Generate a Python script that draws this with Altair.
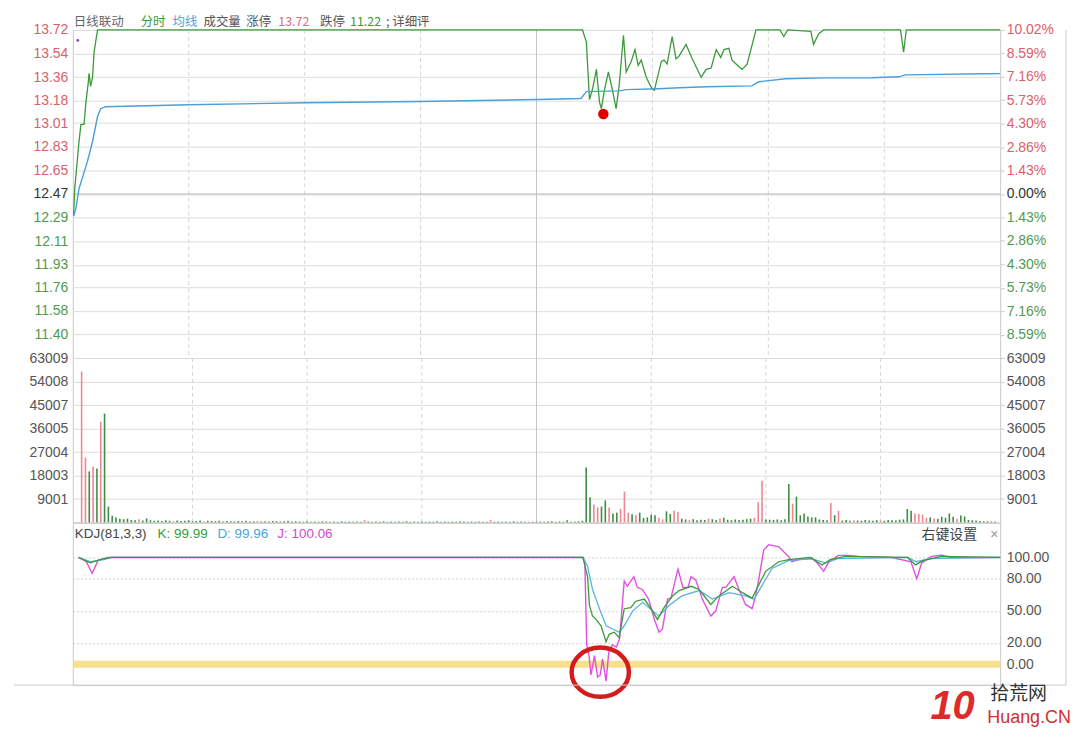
import altair as alt
import pandas as pd

# ---------------- data ----------------
prev_close = 12.47
price_lo, price_hi = 11.22, 13.72

price_ticks = [13.72, 13.54, 13.36, 13.18, 13.01, 12.83, 12.65, 12.47,
               12.29, 12.11, 11.93, 11.76, 11.58, 11.40]
pct_ticks = [10.02, 8.59, 7.16, 5.73, 4.30, 2.86, 1.43, 0.00,
             -1.43, -2.86, -4.30, -5.73, -7.16, -8.59]
vol_ticks = [9001, 18003, 27004, 36005, 45007, 54008, 63009]
kdj_ticks = [0, 20, 50, 80, 100]
grid_minutes = [30, 60, 90, 150, 180, 210]
noon_minute = [120]

# minute line (minute, price)
price_min = [0.2, 0.5, 1.6, 2.1, 2.9, 3.4, 4.0, 4.2, 4.6, 5.1, 5.5, 6.4,
             131.9, 132.9, 133.7, 134.5, 135.5, 136.3, 136.8, 137.5, 138.6, 139.6,
             140.6, 141.4, 142.5, 143.2, 144.5, 145.5, 146.3, 147.1, 148.4, 149.9,
             150.5, 152.3, 153.0, 153.8, 155.1, 156.1, 156.9, 158.7, 160.3, 162.6,
             163.9, 165.2, 166.5, 167.7, 168.5, 169.8, 170.6, 172.4, 173.2, 174.5,
             176.8, 183.0, 184.0, 185.0, 191.0, 191.7, 193.0, 194.3, 214.2, 215.0,
             215.7, 240.0]
price_val = [12.31, 12.51, 12.87, 13.00, 13.00, 13.17, 13.32, 13.39, 13.29, 13.36, 13.55, 13.72,
             13.72, 13.63, 13.19, 13.27, 13.42, 13.17, 13.12, 13.25, 13.40, 13.27,
             13.12, 13.30, 13.68, 13.40, 13.48, 13.57, 13.45, 13.49, 13.36, 13.27,
             13.26, 13.48, 13.49, 13.46, 13.67, 13.50, 13.52, 13.61, 13.50, 13.36,
             13.42, 13.43, 13.57, 13.51, 13.57, 13.58, 13.49, 13.44, 13.42, 13.46,
             13.72, 13.72, 13.67, 13.72, 13.71, 13.61, 13.69, 13.72, 13.72, 13.55,
             13.72, 13.72]

# average price line
avg_min = [0.2, 0.8, 1.6, 3.8, 5.1, 6.4, 7.2, 8.5, 30, 60, 90, 120, 131.5, 132.9,
           141.4, 143.2, 151.6, 157.0, 163.9, 175.7, 177.5, 184.5, 194.8, 206.7,
           213.7, 215.5, 236.0, 240.0]
avg_val = [12.30, 12.36, 12.51, 12.72, 12.87, 13.06, 13.12, 13.135, 13.15, 13.165, 13.175,
           13.19, 13.198, 13.25, 13.256, 13.265, 13.272, 13.28, 13.287, 13.294, 13.325,
           13.348, 13.355, 13.356, 13.363, 13.378, 13.386, 13.387]

# volume per minute (0..240)
vol = ([0]
       + [57800, 24900, 19600, 21500, 20700, 38600, 41700, 6100]
       + [2600, 1900, 1500, 1300, 1500, 1000, 900, 1300, 800, 1600, 900, 700]
       + [800, 600, 900, 700, 500, 800, 600, 700, 900, 500, 600, 800, 500, 700, 600, 500, 700, 400, 600, 500]
       + [400, 600, 500, 700, 400, 500, 600, 400, 500, 400, 600, 500, 400, 500, 700, 400, 500, 400, 300, 500]
       + [300, 400, 300, 500, 400, 300, 400, 300, 500, 300, 400, 300, 400, 300, 900, 400, 300, 400, 300, 500,
          300, 400, 300, 400, 300, 500, 300, 400, 300, 400]
       + [300, 400, 300, 500, 300, 400, 300, 400, 300, 500, 400, 300, 400, 300, 400, 300, 300, 900, 300, 400,
          300, 400, 300, 500, 300, 400, 300, 400, 300, 300, 400, 300, 400, 500, 300, 400, 300, 900, 300, 400, 500]
       + [700]
       + [21100, 9700, 6900, 5800, 6100, 8500, 5800, 3500, 3800, 5300, 11900, 3800, 3200, 2900, 3800, 1800,
          2000, 3000, 2800, 1800, 1200, 4300, 3300, 4500, 4000]
       + [1500, 1200, 1000, 1300, 900, 1100, 1000, 1500, 1300, 1000, 1600, 1800, 1100, 900, 1200, 1000, 1100, 1300, 1500]
       + [1800, 7800, 16000]
       + [1200, 1100, 1000, 1200, 900, 1300]
       + [14800, 7200, 9900, 2800, 3500, 2300, 2000, 2000, 1200, 1000, 900, 7500, 2800, 4500]
       + [800, 1000, 700, 900, 800, 700, 1000, 800, 700, 900, 800, 700, 1000, 900, 800, 1100, 1200]
       + [5200, 4500, 3500, 3300, 3000, 1800, 2000, 1600, 1500, 2200, 1800]
       + [3500, 2200, 1500, 2700, 2300, 1000, 900, 800, 600, 500, 500, 400, 400])
red_minutes = [1, 2, 4, 6, 16, 25, 33, 47, 75, 108, 118, 135, 136, 139, 142, 143, 144, 146, 152, 153,
               156, 157, 160, 165, 168, 177, 178, 179, 187, 197, 199, 203, 210, 219, 220, 221, 222,
               224, 230]

# KDJ
k_min = [1.5, 4.5, 7, 10, 132, 133.2, 133.7, 134.5, 135.4, 136.7, 138, 138.8, 140.1, 141.4, 142.7,
         144.4, 145.7, 147.9, 149.6, 151.3, 153, 155.2, 156.9, 160, 162.1, 165.1, 167.2, 170.7,
         173.3, 175.8, 179.3, 182.7, 185.2, 191, 193.9, 196, 200, 216, 218.1, 220, 224.8, 240]
k_val = [100, 95, 98, 100, 100, 82, 55, 45, 42, 36, 21, 28, 30, 25, 52,
         53, 59, 61, 52, 42, 53, 64, 69, 73, 70, 56, 64, 73,
         67, 62, 87, 96, 98, 100, 93, 98, 101, 100, 93, 97, 101, 100]
d_min = [1.5, 4.5, 8, 10, 132, 133.2, 134.5, 136.3, 138, 139.7, 141.4, 142.7, 144.9, 147.5, 150,
         151.7, 154.3, 157.6, 162.1, 165.5, 169.8, 174.1, 176.3, 181, 185.2, 191, 194.8, 198,
         216, 218.3, 221.7, 240]
d_val = [100, 96, 98, 100, 100, 92, 70, 52, 36, 33, 30, 36, 50, 58, 50,
         45, 55, 64, 69, 61, 67, 64, 61, 90, 97, 99, 95, 99,
         100, 96, 99, 100]
j_min = [1.5, 3.5, 5, 6.5, 9, 132, 132.5, 133, 133.6, 134.1, 135, 135.8, 136.5, 137.1, 138, 138.7,
         139.6, 140.7, 141.5, 142.7, 143.5, 144.6, 145.2, 146.1, 147.4, 149, 150.5, 151.7, 152.6,
         153.9, 154.8, 156.6, 157.9, 159.2, 160, 161.2, 162.9, 165.1, 166.4, 168.1, 169, 171.1,
         172.4, 174.1, 175.8, 176.7, 177.5, 178.8, 180.1, 182.7, 185.2, 186.1, 187.9, 191.3, 192.6,
         194.3, 195.5, 198.1, 200.7, 203.4, 212, 216.9, 218.4, 219.7, 222.3, 224.8, 227.4, 240]
j_val = [100, 96, 85, 97, 100, 100, 96, 18, 8, -10, 8, -12, -10, 5, -16, 11,
         18, 16, 24, 78, 73, 79, 82, 72, 70, 61, 42, 30, 33,
         61, 62, 89, 72, 72, 82, 79, 61, 45, 50, 72, 72, 82,
         70, 56, 52, 64, 79, 107, 112, 110, 101, 96, 98, 99, 95,
         87, 95, 102, 102, 101, 100, 96, 80, 95, 101, 102, 100, 100]

# annotations (data coordinates)
open_dot = {"m": [1.3], "p": [13.64]}
low_dot = {"m": [137.3], "p": [13.08]}
circle_mark = {"m": [136.5], "v": [-7.5]}

header_items = [("日线联动", "#666666", 1), ("分时", "#3a9a3a", 68), ("均线", "#4aa3d8", 100),
                ("成交量", "#555555", 131), ("涨停", "#555555", 174), ("13.72", "#e06c78", 206),
                ("跌停", "#555555", 248), ("11.22", "#3a9a3a", 278), ("; 详细评", "#555555", 314)]
kdj_items = [("KDJ(81,3,3)", "#444444", 2), ("K: 99.99", "#3a9a3a", 85),
             ("D: 99.96", "#4aa3d8", 145), ("J: 100.06", "#d04ad0", 205)]

# ---------------- chart ----------------
W = 930
H1, H2, H3 = 329, 165, 163
FONT = "Liberation Sans"
CJK = "Noto Sans CJK SC"
dummy = pd.DataFrame({"a": [0]})

xs = alt.Scale(domain=[0, 240], nice=False, zero=False)
X = alt.X("m:Q", scale=xs, axis=None)

RED, GRN, DARK = "#d9606c", "#4f9a4f", "#333333"


def vgrid():
    g1 = alt.Chart(pd.DataFrame({"m": grid_minutes})).mark_rule(
        color="#d6d6d6", strokeDash=[4, 3], strokeWidth=1).encode(x=X)
    g2 = alt.Chart(pd.DataFrame({"m": noon_minute})).mark_rule(
        color="#c4c4c4", strokeWidth=1).encode(x=X)
    return g1 + g2


def right_frame():
    return alt.Chart(dummy).mark_rule(color="#cfcfcf", strokeWidth=1).encode(x=alt.value(996))


def txt(text, color, x, y, size=13, font=FONT, **kw):
    return alt.Chart(dummy).mark_text(align="left", baseline="middle", fontSize=size, font=font,
                                      color=color, **kw).encode(
        x=alt.value(x), y=alt.value(y), text=alt.value(text))


# ---- price panel ----
ps = alt.Scale(domain=[price_lo, price_hi], nice=False, zero=False)
price_axis = alt.Axis(values=price_ticks, format=".2f", orient="left", grid=True, gridColor="#dddddd",
                      ticks=False, domain=False, labelFontSize=14, labelPadding=5, title=None,
                      labelColor={"expr": "datum.value > 12.475 ? '%s' : (datum.value < 12.465 ? '%s' : '%s')" % (RED, GRN, DARK)})
PY = lambda f: alt.Y(f, scale=ps, axis=price_axis)

price_line = alt.Chart(pd.DataFrame({"m": price_min, "p": price_val})).mark_line(
    color="#3a9a3a", strokeWidth=1.3).encode(x=X, y=PY("p:Q"))
avg_line = alt.Chart(pd.DataFrame({"m": avg_min, "p": avg_val})).mark_line(
    color="#4a9fd8", strokeWidth=1.4).encode(x=X, y=PY("p:Q"))
base_rule = alt.Chart(pd.DataFrame({"p": [prev_close]})).mark_rule(
    color="#b8b8b8", strokeWidth=1).encode(y=PY("p:Q"))
dot1 = alt.Chart(pd.DataFrame(open_dot)).mark_point(
    filled=True, color="#a040b0", size=8, opacity=1).encode(x=X, y=PY("p:Q"))
dot2 = alt.Chart(pd.DataFrame(low_dot)).mark_point(
    filled=True, color="#e00000", size=110, opacity=1, shape="circle").encode(x=X, y=PY("p:Q"))
price_inner = alt.layer(base_rule, price_line, avg_line, dot1, dot2)

pct_axis = alt.Axis(values=pct_ticks, orient="right", grid=False, ticks=True, tickSize=4,
                    tickColor="#cccccc", domain=False, labelFontSize=14, labelPadding=2, title=None,
                    labelExpr="format(abs(datum.value), '.2f') + '%'",
                    labelColor={"expr": "datum.value > 0.001 ? '%s' : (datum.value < -0.001 ? '%s' : '%s')" % (RED, GRN, DARK)})
pct_layer = alt.Chart(pd.DataFrame({"pct": pct_ticks})).mark_tick(opacity=0).encode(
    y=alt.Y("pct:Q", scale=alt.Scale(domain=[-10.02, 10.02], nice=False, zero=False), axis=pct_axis))

header = [txt(t, c, x, -8, size=12.5, font=CJK) for t, c, x in header_items]

price_panel = alt.layer(vgrid(), price_inner, pct_layer, right_frame(), *header).resolve_scale(
    y="independent").properties(width=W, height=H1)

# ---- volume panel ----
vdf = pd.DataFrame({"m": list(range(len(vol))), "v": vol})
vdf["dir"] = ["r" if m in red_minutes else "g" for m in vdf["m"]]
vs = alt.Scale(domain=[0, 63009], nice=False, zero=True)
vol_axis_l = alt.Axis(values=vol_ticks, orient="left", grid=True, gridColor="#dddddd", ticks=False,
                      domain=False, labelFontSize=14, labelPadding=5, labelColor="#555555", title=None,
                      format="d")
vol_axis_r = alt.Axis(values=vol_ticks, orient="right", grid=False, ticks=True, tickSize=4,
                      tickColor="#cccccc", domain=False, labelFontSize=14, labelPadding=2,
                      labelColor="#555555", title=None, format="d")
bars = alt.Chart(vdf).mark_bar(size=1.6).encode(
    x=X, y=alt.Y("v:Q", scale=vs, axis=vol_axis_l),
    color=alt.Color("dir:N", scale=alt.Scale(domain=["r", "g"], range=["#ee8790", "#3f8c46"]), legend=None))
vol_right = alt.Chart(pd.DataFrame({"v": vol_ticks})).mark_tick(opacity=0).encode(
    y=alt.Y("v:Q", scale=vs, axis=vol_axis_r))
vol_panel = alt.layer(vgrid(), bars, vol_right, right_frame()).resolve_scale(
    y="independent").properties(width=W, height=H2)

# ---- KDJ panel ----
ks = alt.Scale(domain=[-19.6, 132.7], nice=False, zero=False)
kdj_axis = alt.Axis(values=kdj_ticks, orient="right", format=".2f", grid=True, gridDash=[2, 2],
                    gridColor="#cfcfcf", ticks=False, domain=False, labelFontSize=14, labelPadding=6,
                    labelColor="#555555", title=None)
KY = alt.Y("v:Q", scale=ks, axis=kdj_axis)
yellow = alt.Chart(pd.DataFrame({"v": [0]})).mark_rule(color="#f8e08e", strokeWidth=7).encode(y=KY)
j_line = alt.Chart(pd.DataFrame({"m": j_min, "v": j_val})).mark_line(
    color="#e050e0", strokeWidth=1.4).encode(x=X, y=KY)
d_line = alt.Chart(pd.DataFrame({"m": d_min, "v": d_val})).mark_line(
    color="#5ab4e0", strokeWidth=1.3).encode(x=X, y=KY)
k_line = alt.Chart(pd.DataFrame({"m": k_min, "v": k_val})).mark_line(
    color="#3a9a3a", strokeWidth=1.3).encode(x=X, y=KY)
ellipse = "M -1 0 A 1 0.86 0 1 0 1 0 A 1 0.86 0 1 0 -1 0 Z"
circ = alt.Chart(pd.DataFrame(circle_mark)).mark_point(
    shape=ellipse, size=3300, filled=False, color="#d41c1c", strokeWidth=4.5, opacity=1).encode(x=X, y=KY)

kdj_texts = [txt(t, c, x, 11, size=13.5) for t, c, x in kdj_items]
kdj_texts += [txt("右键设置", "#444444", 851, 12, size=14, font=CJK),
              txt("×", "#999999", 920, 12, size=14)]
bottom_line = alt.Chart(dummy).mark_rule(color="#cccccc", strokeWidth=1).encode(
    x=alt.value(-59), x2=alt.value(996), y=alt.value(163))
wm = [txt("10", "#e02a2a", 860, 185, size=40, fontWeight="bold", fontStyle="italic"),
      txt("拾荒网", "#333333", 920, 172, size=19, font=CJK),
      txt("Huang.CN", "#d32f2f", 917, 196, size=18)]

kdj_panel = alt.layer(yellow, j_line, d_line, k_line, circ, bottom_line, right_frame(),
                      *kdj_texts, *wm).properties(width=W, height=H3)

chart = alt.vconcat(price_panel, vol_panel, kdj_panel, spacing=0, bounds="flush").properties(
    padding={"left": 5, "top": 6, "right": 0, "bottom": 0}, background="white"
).configure_view(stroke="#c8c8c8").configure_axis(labelFont=FONT)

chart.save("out.html", embed_options={"renderer": "svg", "actions": False})
